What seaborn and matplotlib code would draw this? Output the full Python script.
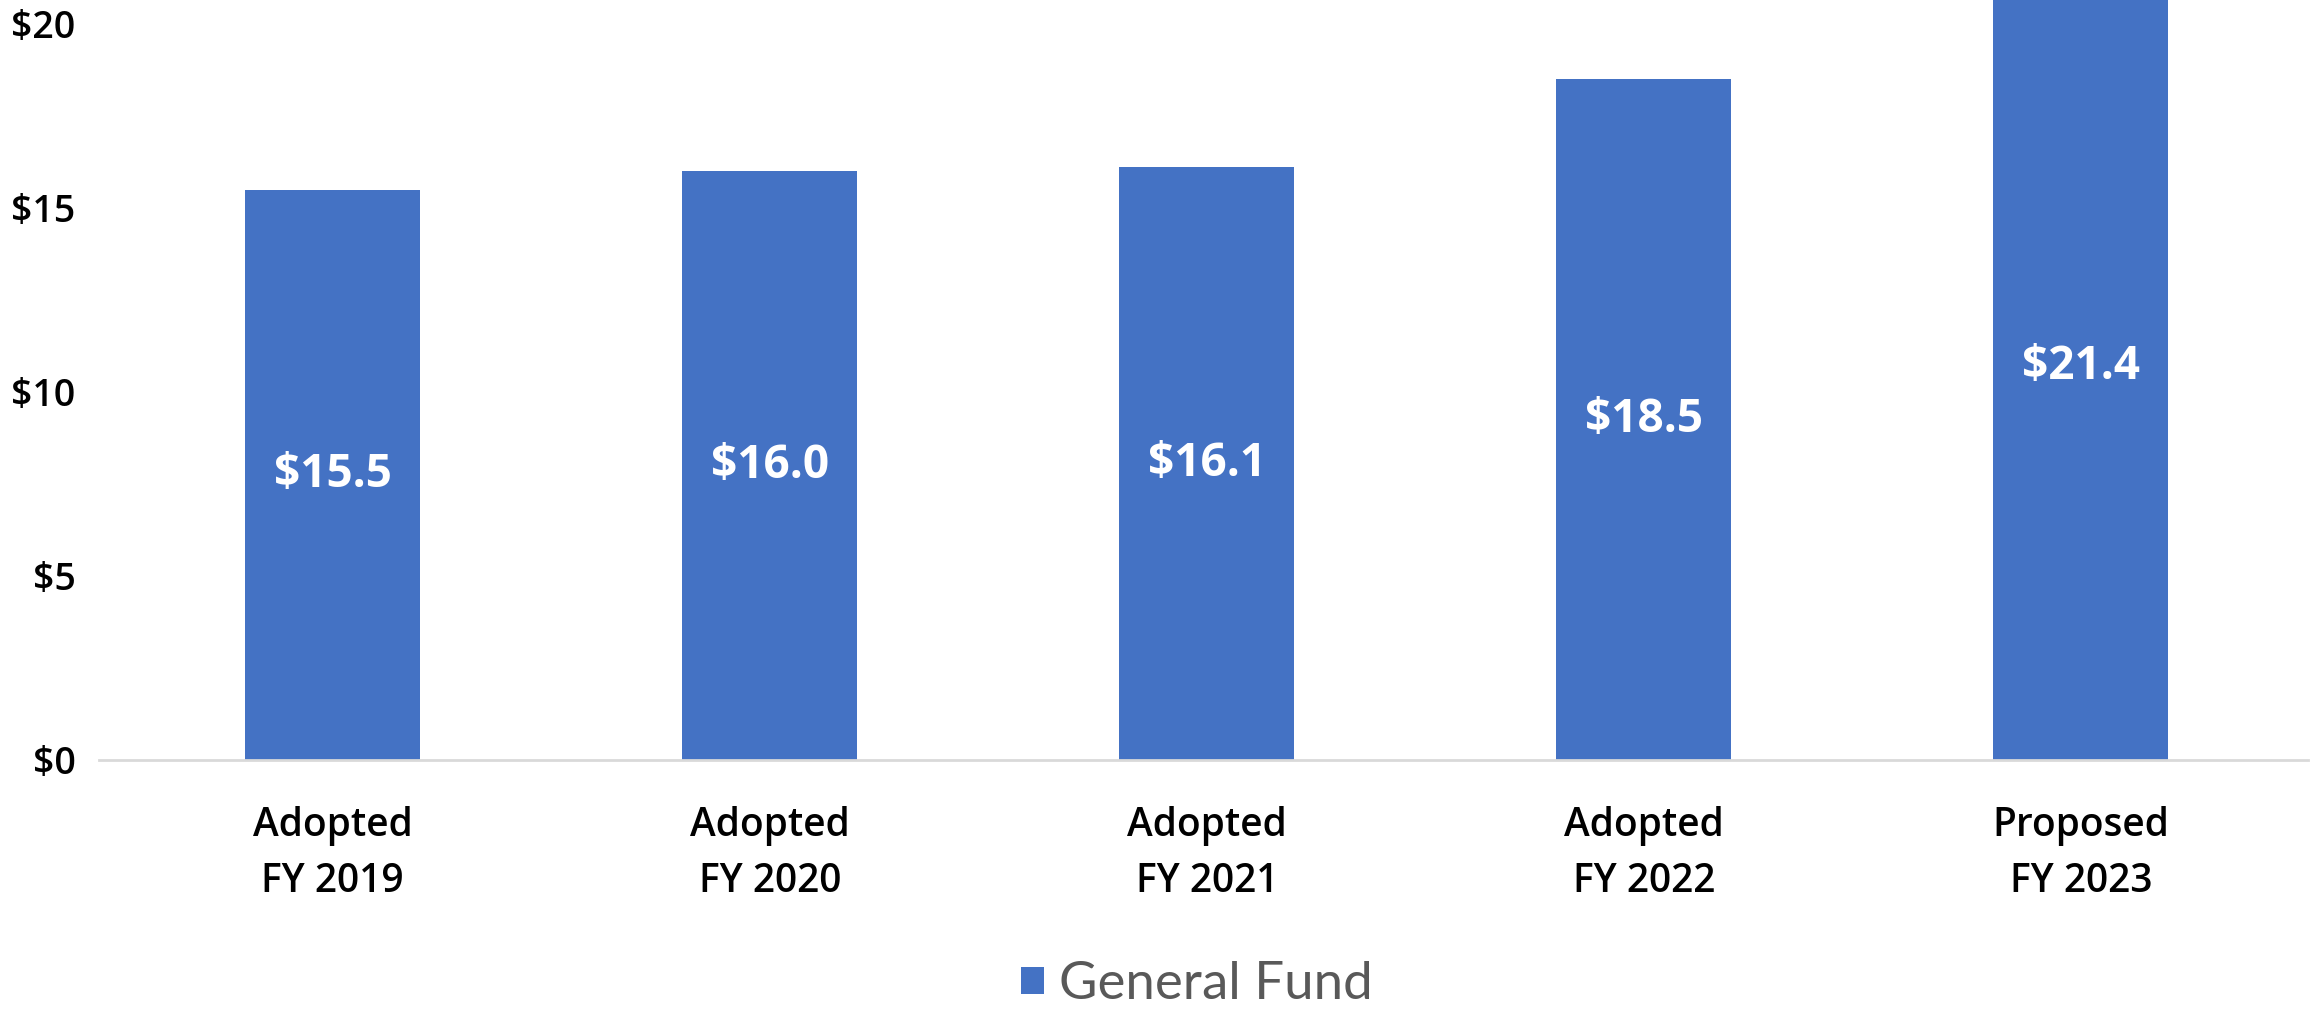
import matplotlib
matplotlib.use("Agg")
import matplotlib.pyplot as plt
import seaborn as sns
import pandas as pd
from matplotlib.patches import Patch

categories = ["Adopted\nFY 2019", "Adopted\nFY 2020", "Adopted\nFY 2021", "Adopted\nFY 2022", "Proposed\nFY 2023"]
values = [15.5, 16.0, 16.1, 18.5, 21.4]
value_labels = ["$15.5", "$16.0", "$16.1", "$18.5", "$21.4"]
yticks = [0, 5, 10, 15, 20]
ytick_labels = ["$0", "$5", "$10", "$15", "$20"]
series_name = "General Fund"

sns.set_theme(style="white")
plt.rcParams['font.family'] = ['Open Sans', 'DejaVu Sans']

bar_color = "#4472C4"
df = pd.DataFrame({"cat": categories, "val": values})

fig = plt.figure(figsize=(23.16, 10.11), dpi=100)
ax = fig.add_axes([99/2316, 1 - 760/1011, (2308-99)/2316, 760/1011])

sns.barplot(data=df, x="cat", y="val", color=bar_color, saturation=1, width=0.4, ax=ax)
for p in ax.patches:
    p.set_edgecolor("none")

ax.set_ylim(0, 20.65)
ax.set_xlim(-0.535, 4.52)
ax.set_yticks(yticks)
ax.set_yticklabels(ytick_labels, fontsize=27, fontweight='semibold', color='black')
ax.set_xticklabels(categories, fontsize=28, fontweight='semibold', color='black', linespacing=1.55)
ax.tick_params(axis='y', length=0, pad=17)
ax.tick_params(axis='x', length=0, pad=33)
ax.set_xlabel("")
ax.set_ylabel("")

for s in ["top", "right", "left"]:
    ax.spines[s].set_visible(False)
ax.spines["bottom"].set_color("#D9D9D9")
ax.spines["bottom"].set_linewidth(2)

for i, (v, lab) in enumerate(zip(values, value_labels)):
    ax.text(i, v / 2, lab, ha='center', va='center', color='white',
            fontsize=33, fontweight='bold')

handle = Patch(facecolor=bar_color, edgecolor='none')
leg = fig.legend([handle], [series_name], loc='center', bbox_to_anchor=(0.517, 0.026),
                 frameon=False, fontsize=38, handlelength=0.42, handleheight=0.42,
                 handletextpad=0.3, borderpad=0, borderaxespad=0)
for t in leg.get_texts():
    t.set_color("#595959")
    t.set_family(['Lato', 'DejaVu Sans'])
    t.set_fontweight('normal')

fig.savefig("out.png", dpi=100)
